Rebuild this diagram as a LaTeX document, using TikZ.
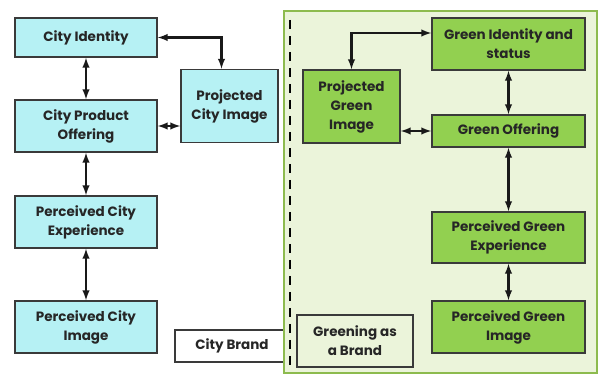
\documentclass[tikz,border=0pt]{standalone}
\usepackage{fontspec}
\setmainfont{Poppins}
\usetikzlibrary{arrows}

\definecolor{cityfill}{HTML}{B6F1F4}
\definecolor{greenfill}{HTML}{92D050}
\definecolor{panelfill}{HTML}{EBF4DA}
\definecolor{panelline}{HTML}{8DBB4E}
\definecolor{boxline}{HTML}{3A3A3A}

\tikzset{
  box/.style={draw=boxline, line width=1.7pt, align=center, inner sep=1pt,
    font=\bfseries\fontsize{13.5}{19}\selectfont, text=black!85},
  citybox/.style={box, fill=cityfill},
  greenbox/.style={box, fill=greenfill},
  brandbox/.style={box, fill=#1, line width=1.2pt},
  arr/.style={latex-latex, line width=2.3pt, black!90}
}

\begin{document}
\begin{tikzpicture}[x=1pt,y=-1pt]
\useasboundingbox (0,0) rectangle (598,374);

% city side
\draw (86,37.5)  node (c1) [citybox, minimum width=142pt, minimum height=39pt] {City Identity};
\draw (86,126)   node (c2) [citybox, minimum width=142pt, minimum height=52pt] {City Product\\Offering};
\draw (229.5,106) node (p1) [citybox, minimum width=97pt, minimum height=73pt] {Projected\\City Image};
\draw (86,222)   node (c3) [citybox, minimum width=142pt, minimum height=52pt] {Perceived City\\Experience};
\draw (86,327)   node (c4) [citybox, minimum width=142pt, minimum height=52pt] {Perceived City\\Image};
\draw (232,346)  node (cb) [brandbox=white, minimum width=114pt, minimum height=32pt] {City Brand};

\draw [arr] (c1.south) -- (c2.north);
\draw [arr] (c2.south) -- (c3.north);
\draw [arr] (c3.south) -- (c4.north);
\draw [arr] (c1.east) -| ([xshift=-8pt]p1.north);
\draw [arr] (c2.east) -- (c2.east -| p1.west);

% green side
\fill [panelfill, draw=panelline, line width=1.3pt] (284,11) rectangle (597,373);
\draw [line width=2.4pt, dash pattern=on 9pt off 7pt] (290,20) -- (290,372);

\draw (508.5,44)  node (g1) [greenbox, minimum width=153pt, minimum height=52pt] {Green Identity and\\status};
\draw (351.5,106.5) node (p2) [greenbox, minimum width=97pt, minimum height=73pt] {Projected\\Green\\Image};
\draw (508.5,131) node (g2) [greenbox, minimum width=153pt, minimum height=32pt] {Green Offering};
\draw (508.5,237.5) node (g3) [greenbox, minimum width=153pt, minimum height=51pt] {Perceived Green\\Experience};
\draw (508.5,327) node (g4) [greenbox, minimum width=153pt, minimum height=52pt] {Perceived Green\\Image};
\draw (355,341)   node (gb) [brandbox=panelfill, minimum width=116pt, minimum height=52pt] {Greening as\\a Brand};

\draw [arr] (p2.north) |- ([yshift=11pt]g1.west);
\draw [arr] (g1.south) -- (g2.north);
\draw [arr] (g2.south) -- (g3.north);
\draw [arr] (g3.south) -- (g4.north);
\draw [arr] (g2.west -| p2.east) -- (g2.west);
\end{tikzpicture}
\end{document}
